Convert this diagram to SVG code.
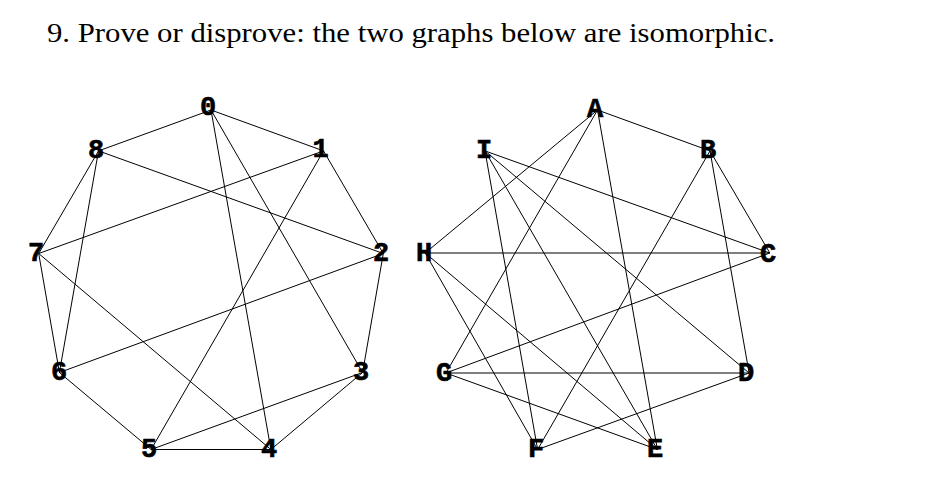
<svg xmlns="http://www.w3.org/2000/svg" width="940" height="484" viewBox="0 0 940 484">
<style>
.title{font-family:"Liberation Serif","Times New Roman",serif;font-size:28px;fill:#000}
.e line{stroke:#000;stroke-width:1;fill:none}
.lbl{font-family:"Liberation Mono","Courier New",monospace;font-weight:bold;font-size:27px;fill:#000;stroke:#000;stroke-width:0.6;text-anchor:middle}
</style>
<rect width="940" height="484" fill="#fff"/>
<text class="title" x="47" y="42" textLength="728" lengthAdjust="spacingAndGlyphs">9. Prove or disprove: the two graphs below are isomorphic.</text>
<g id="edges-left" class="e">
<line x1="211" y1="110" x2="98.5" y2="150.9"/>
<line x1="211" y1="110" x2="323.5" y2="150.9"/>
<line x1="211" y1="110" x2="270.9" y2="449.5"/>
<line x1="211" y1="110" x2="362.6" y2="372.5"/>
<line x1="98.5" y1="150.9" x2="383.3" y2="253.5"/>
<line x1="98.5" y1="150.9" x2="38.7" y2="253.5"/>
<line x1="98.5" y1="150.9" x2="59.4" y2="372.5"/>
<line x1="323.5" y1="150.9" x2="383.3" y2="253.5"/>
<line x1="323.5" y1="150.9" x2="38.7" y2="253.5"/>
<line x1="323.5" y1="150.9" x2="151.1" y2="449.5"/>
<line x1="383.3" y1="253.5" x2="59.4" y2="372.5"/>
<line x1="383.3" y1="253.5" x2="362.6" y2="372.5"/>
<line x1="38.7" y1="253.5" x2="59.4" y2="372.5"/>
<line x1="38.7" y1="253.5" x2="270.9" y2="449.5"/>
<line x1="59.4" y1="372.5" x2="151.1" y2="449.5"/>
<line x1="151.1" y1="449.5" x2="270.9" y2="449.5"/>
<line x1="151.1" y1="449.5" x2="362.6" y2="372.5"/>
<line x1="362.6" y1="372.5" x2="270.9" y2="449.5"/>
</g>
<g id="edges-right" class="e">
<line x1="597.5" y1="110" x2="710" y2="150.9"/>
<line x1="597.5" y1="110" x2="425.2" y2="253"/>
<line x1="597.5" y1="110" x2="445.9" y2="373"/>
<line x1="597.5" y1="110" x2="657.4" y2="449.5"/>
<line x1="485" y1="150.9" x2="769.8" y2="253"/>
<line x1="485" y1="150.9" x2="537.6" y2="449.5"/>
<line x1="485" y1="150.9" x2="657.4" y2="449.5"/>
<line x1="485" y1="150.9" x2="749.1" y2="373"/>
<line x1="710" y1="150.9" x2="769.8" y2="253"/>
<line x1="710" y1="150.9" x2="749.1" y2="373"/>
<line x1="710" y1="150.9" x2="537.6" y2="449.5"/>
<line x1="425.2" y1="253" x2="769.8" y2="253"/>
<line x1="425.2" y1="253" x2="537.6" y2="449.5"/>
<line x1="425.2" y1="253" x2="657.4" y2="449.5"/>
<line x1="445.9" y1="373" x2="769.8" y2="253"/>
<line x1="445.9" y1="373" x2="749.1" y2="373"/>
<line x1="445.9" y1="373" x2="657.4" y2="449.5"/>
<line x1="537.6" y1="449.5" x2="749.1" y2="373"/>
</g>
<g id="n0"><text class="lbl" x="208" y="115">0</text></g>
<g id="n1"><text class="lbl" x="320.5" y="157">1</text></g>
<g id="n2"><text class="lbl" x="381" y="261">2</text></g>
<g id="n3"><text class="lbl" x="361" y="380">3</text></g>
<g id="n4"><text class="lbl" x="269" y="457">4</text></g>
<g id="n5"><text class="lbl" x="149" y="457">5</text></g>
<g id="n6"><text class="lbl" x="59" y="380">6</text></g>
<g id="n7"><text class="lbl" x="36" y="261">7</text></g>
<g id="n8"><text class="lbl" x="96" y="158">8</text></g>
<g id="nA"><text class="lbl" x="595" y="117">A</text></g>
<g id="nB"><text class="lbl" x="708" y="158">B</text></g>
<g id="nC"><text class="lbl" x="768" y="262">C</text></g>
<g id="nD"><text class="lbl" x="746" y="381">D</text></g>
<g id="nE"><text class="lbl" x="655" y="457">E</text></g>
<g id="nF"><text class="lbl" x="536" y="457">F</text></g>
<g id="nG"><text class="lbl" x="444" y="381">G</text></g>
<g id="nH"><text class="lbl" x="424" y="261">H</text></g>
<g id="nI"><text class="lbl" x="484" y="158">I</text></g>
</svg>
